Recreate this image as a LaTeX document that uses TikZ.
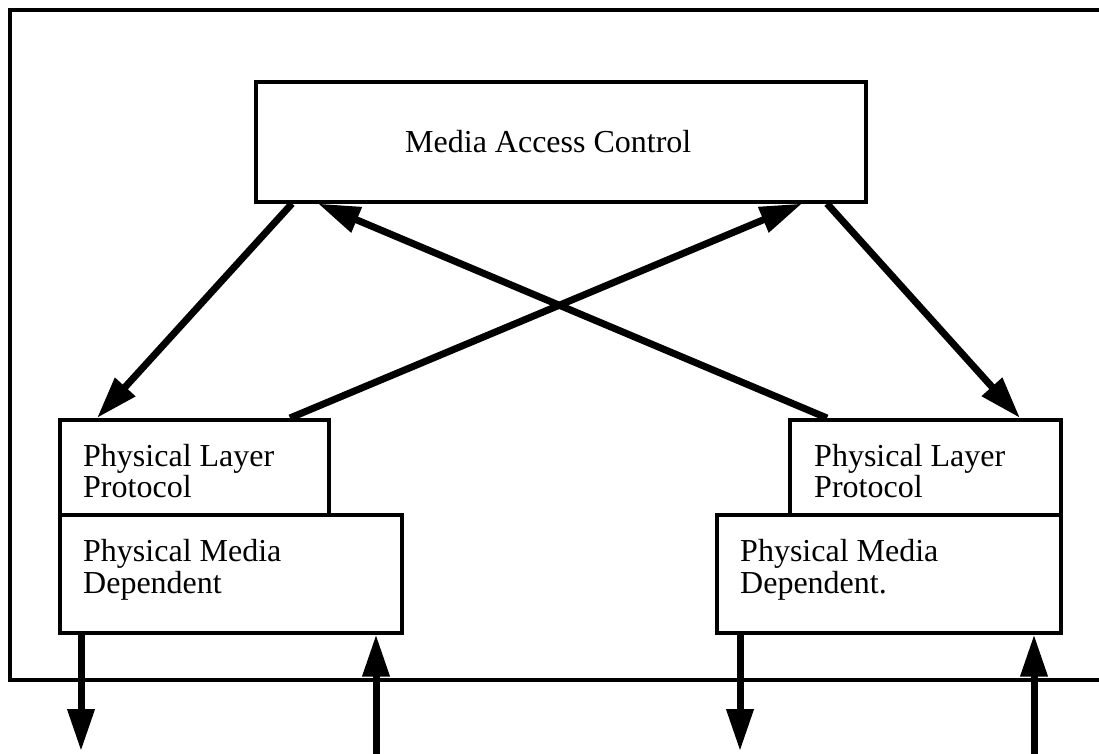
\documentclass[tikz,border=0pt]{standalone}
\usepackage{fontspec}
\setmainfont{Liberation Serif}
\usetikzlibrary{arrows.meta,calc}

\tikzset{
  box/.style={draw, line width=3.6pt, fill=white, inner sep=0pt, anchor=north west},
  lbl/.style={anchor=base west, inner sep=0pt, font=\fontsize{32}{32}\selectfont},
  flow/.style={line width=7pt, -{Triangle[length=42pt,width=26pt]}},
  frame/.style={line width=4.2pt, line cap=rect}
}

\begin{document}
\begin{tikzpicture}[x=1pt,y=-1pt]
\useasboundingbox (0,0) rectangle (1099,754);

% enclosing station frame, open on the right
\draw[frame] (1099,10) -- (10,10) -- (10,680) -- (1099,680);

% layer boxes
\node[box, minimum width=610pt, minimum height=120pt] (mac) at (254,80) {};
\node[box, minimum width=269pt, minimum height=95pt]  (plpL) at (58,418) {};
\node[box, minimum width=342pt, minimum height=118pt] (pmdL) at (58,513) {};
\node[box, minimum width=271pt, minimum height=95pt]  (plpR) at (788,418) {};
\node[box, minimum width=344pt, minimum height=118pt] (pmdR) at (715,513) {};

% labels
\node[lbl] (tmac) at (405,153) {Media Access Control};
\node[lbl] (tplpL1) at (83,466) {Physical Layer};
\node[lbl] (tplpL2) at (83,497) {Protocol};
\node[lbl] (tpmdL1) at (83,561) {Physical Media};
\node[lbl] (tpmdL2) at (83,593) {Dependent};
\node[lbl] (tplpR1) at (814,466) {Physical Layer};
\node[lbl] (tplpR2) at (814,497) {Protocol};
\node[lbl] (tpmdR1) at (740,561) {Physical Media};
\node[lbl] (tpmdR2) at (740,593) {Dependent.};

% loose ends of the medium connections
\coordinate (outL) at (81,751);
\coordinate (inL)  at (376,754);
\coordinate (outR) at (740,751);
\coordinate (inR)  at (1034,754);

% MAC <-> PHY paths
\draw[flow] ($(mac.south west)+(38,0)$) -- ($(plpL.north west)+(39,0)$);
\draw[flow] ($(plpR.north west)+(39,0)$) -- ($(mac.south west)+(64,0)$);
\draw[flow] ($(plpL.north west)+(232,0)$) -- ($(mac.south west)+(548,0)$);
\draw[flow] ($(mac.south west)+(573,0)$) -- ($(plpR.north west)+(232,0)$);

% PMD <-> medium
\draw[flow] ($(pmdL.south west)+(23,0)$) -- (outL);
\draw[flow] (inL) -- ($(pmdL.south west)+(318,0)$);
\draw[flow] ($(pmdR.south west)+(25,0)$) -- (outR);
\draw[flow] (inR) -- ($(pmdR.south west)+(319,0)$);
\end{tikzpicture}
\end{document}
